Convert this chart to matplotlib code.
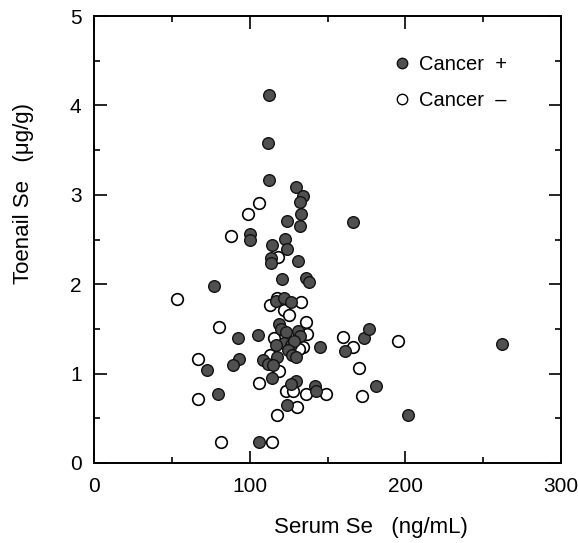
import matplotlib
matplotlib.use("Agg")
import matplotlib.pyplot as plt
from matplotlib.lines import Line2D

plt.rcParams["font.family"] = ["Liberation Sans", "DejaVu Sans"]

# serum Se (ng/mL) vs toenail Se (ug/g)
cancer_pos_serum = [
    112.6, 111.9, 112.6, 129.8, 134.3, 132.1, 133.2, 123.8, 132.1, 166.1,
    100.5, 100.5, 114.2, 122.7, 123.8, 131.0, 113.5, 113.5, 120.9, 135.9,
    138.1, 76.8, 116.9, 122.0, 126.5, 118.6, 120.4, 123.1, 131.0, 132.1,
    105.4, 92.2, 122.0, 126.5, 128.7, 116.9, 124.7, 126.9, 129.8, 145.5,
    161.2, 173.5, 176.9, 261.9, 93.3, 89.5, 72.3, 108.6, 111.9, 117.5,
    114.8, 114.2, 129.8, 126.5, 142.2, 142.8, 181.3, 79.5, 123.8, 201.9,
    106.3,
]
cancer_pos_toenail = [
    4.12, 3.58, 3.16, 3.09, 2.99, 2.92, 2.78, 2.71, 2.65, 2.70,
    2.56, 2.50, 2.44, 2.51, 2.39, 2.26, 2.29, 2.24, 2.06, 2.07,
    2.03, 1.98, 1.81, 1.85, 1.80, 1.56, 1.50, 1.46, 1.48, 1.42,
    1.43, 1.40, 1.34, 1.32, 1.36, 1.32, 1.26, 1.21, 1.19, 1.30,
    1.25, 1.40, 1.50, 1.33, 1.16, 1.10, 1.04, 1.15, 1.11, 1.19,
    1.10, 0.95, 0.92, 0.88, 0.86, 0.81, 0.86, 0.77, 0.65, 0.54,
    0.23,
]

cancer_neg_serum = [
    105.7, 98.9, 87.8, 53.1, 80.6, 118.2, 113.0, 117.5, 122.0, 125.4,
    133.2, 135.9, 136.6, 134.3, 115.7, 113.0, 118.6, 66.5, 66.5, 105.7,
    160.1, 166.1, 170.0, 171.9, 195.2, 148.9, 136.1, 123.1, 127.6, 130.3,
    117.5, 81.7, 114.2, 131.4,
]
cancer_neg_toenail = [
    2.91, 2.78, 2.54, 1.83, 1.52, 2.30, 1.77, 1.85, 1.71, 1.65,
    1.80, 1.58, 1.44, 1.30, 1.40, 1.21, 1.03, 1.16, 0.72, 0.90,
    1.41, 1.30, 1.06, 0.75, 1.37, 0.77, 0.77, 0.80, 0.80, 0.63,
    0.54, 0.23, 0.23, 1.27,
]

FS = 15

fig = plt.figure(figsize=(5.78, 5.43), dpi=100)
ax = fig.add_axes([94 / 578, 1 - 463 / 543, 467 / 578, 447 / 543])

ax.scatter(cancer_neg_serum, cancer_neg_toenail, s=70, facecolor="white",
           edgecolor="black", linewidth=1.2, zorder=2)
ax.scatter(cancer_pos_serum, cancer_pos_toenail, s=70, facecolor="#505050",
           edgecolor="#111111", linewidth=1.0, zorder=3)

ax.set_xlim(0, 300)
ax.set_ylim(0, 5)
ax.set_xticks([0, 100, 200, 300])
ax.set_xticks([50, 150, 250], minor=True)
ax.set_yticks([0, 1, 2, 3, 4, 5])
ax.set_yticks([0.5, 1.5, 2.5, 3.5, 4.5], minor=True)
ax.tick_params(which="both", direction="in", top=True, right=True,
               width=1.2, labelsize=FS)
ax.tick_params(which="major", length=9)
ax.tick_params(which="minor", length=4)
ax.tick_params(axis="x", pad=10)
ax.tick_params(axis="y", pad=9)
for sp in ax.spines.values():
    sp.set_linewidth(1.4)

fig.text(371 / 578, 1 - 527 / 543, "Serum Se   (ng/mL)", fontsize=FS + 1,
         ha="center", va="center")
fig.text(24 / 578, 1 - 193 / 543, "Toenail Se   (\u03bcg/g)", fontsize=FS + 1,
         rotation=90, ha="center", va="center")

handles = [
    Line2D([], [], linestyle="none", marker="o", markersize=7.5,
           markerfacecolor="#505050", markeredgecolor="#111111"),
    Line2D([], [], linestyle="none", marker="o", markersize=7.5,
           markerfacecolor="white", markeredgecolor="black"),
]
ax.legend(handles, ["Cancer  +", "Cancer  \u2013"], loc="upper left",
          bbox_to_anchor=(0.6, 0.953), frameon=False, fontsize=14.5,
          handletextpad=0.3, labelspacing=0.85, handlelength=1.0)

fig.savefig("out.png", dpi=100)
